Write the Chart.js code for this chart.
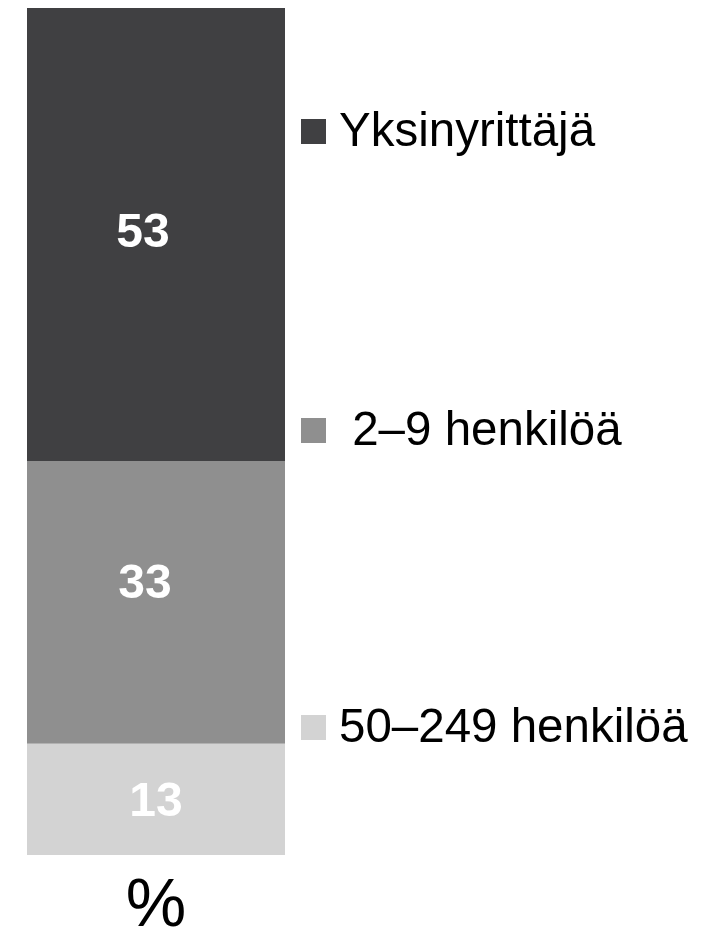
<!DOCTYPE html>
<html>
<head>
<meta charset="utf-8">
<script src="https://cdn.jsdelivr.net/npm/chart.js@4.4.1/dist/chart.umd.min.js"></script>
<style>
  html, body { margin: 0; padding: 0; background: #fff; }
  #wrap { width: 713px; height: 935px; }
</style>
</head>
<body>
<div id="wrap"><canvas id="sizeChart"></canvas></div>
<script>
// Data
const categories = ['%'];
const seriesNames = ['50–249 henkilöä', ' 2–9 henkilöä', 'Yksinyrittäjä'];
const smallFirms = [13];
const microFirms = [33];
const soloFirms = [53];

const colors = ['#d3d3d3', '#8f8f8f', '#404042'];

// Draws the value inside each segment
const segmentLabels = {
    id: 'segmentLabels',
    afterDatasetsDraw(chart, args, opts) {
        const ctx = chart.ctx;
        ctx.save();
        ctx.font = 'bold 48px "Liberation Sans", Arial, sans-serif';
        ctx.fillStyle = '#ffffff';
        ctx.textAlign = 'center';
        ctx.textBaseline = 'middle';
        chart.data.datasets.forEach((ds, i) => {
            const meta = chart.getDatasetMeta(i);
            meta.data.forEach((bar, j) => {
                const nudge = opts.nudge[i] || [0, 0];
                const y = (bar.y + bar.base) / 2;
                ctx.fillText(String(ds.data[j]), bar.x + nudge[0], y + nudge[1]);
            });
        });
        ctx.restore();
    }
};

// Legend on the right, top entry is the top segment
const sideLegend = {
    id: 'sideLegend',
    afterDraw(chart, args, opts) {
        const ctx = chart.ctx;
        const x = chart.chartArea.right + 16;
        ctx.save();
        ctx.font = '47.5px "Liberation Sans", Arial, sans-serif';
        ctx.textBaseline = 'middle';
        ctx.textAlign = 'left';
        const n = chart.data.datasets.length;
        for (let k = 0; k < n; k++) {
            const ds = chart.data.datasets[n - 1 - k];
            const y = opts.rows[k];
            ctx.fillStyle = ds.backgroundColor;
            ctx.fillRect(x, y - 12, 25, 25);
            ctx.fillStyle = '#000000';
            ctx.fillText(ds.label, x + 38, y + 2);
        }
        ctx.restore();
    }
};

const ctx = document.getElementById('sizeChart').getContext('2d');
const sizeChart = new Chart(ctx, {
    type: 'bar',
    data: {
        labels: categories,
        datasets: [
            { label: seriesNames[0], data: smallFirms, backgroundColor: colors[0] },
            { label: seriesNames[1], data: microFirms, backgroundColor: colors[1] },
            { label: seriesNames[2], data: soloFirms, backgroundColor: colors[2] }
        ]
    },
    options: {
        responsive: true,
        maintainAspectRatio: false,
        animation: false,
        layout: {
            // the tick box is centred on the label, so let it run past the bottom edge
            padding: { top: 8, left: 27, right: 428, bottom: -24 }
        },
        datasets: {
            bar: { barPercentage: 1, categoryPercentage: 1, borderWidth: 0 }
        },
        scales: {
            x: {
                stacked: true,
                grid: { display: false, drawTicks: false },
                border: { display: false },
                ticks: {
                    color: '#000000',
                    padding: 24,
                    font: { family: '"Liberation Sans", Arial, sans-serif', size: 68, lineHeight: 0.8235 }
                }
            },
            y: {
                stacked: true,
                display: false,
                min: 0,
                max: 99
            }
        },
        plugins: {
            legend: { display: false },
            tooltip: { enabled: false },
            segmentLabels: { nudge: [[0, 3], [-11, -18], [-13, -1]] },
            sideLegend: { rows: [131, 430, 727] }
        }
    },
    plugins: [segmentLabels, sideLegend]
});
</script>
</body>
</html>
